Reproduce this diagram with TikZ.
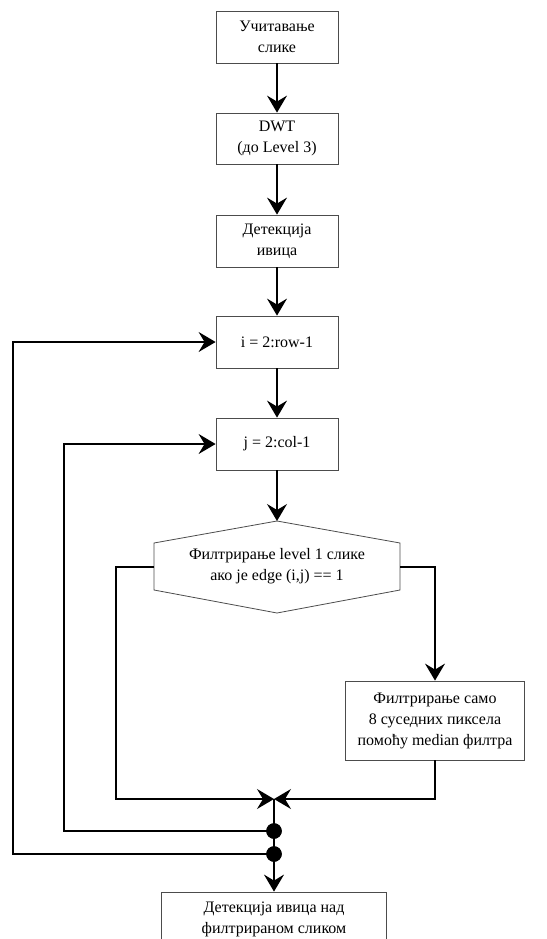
\documentclass[tikz,border=0pt]{standalone}
\usepackage{fontspec}
\setmainfont{Liberation Serif}
\usetikzlibrary{arrows.meta}
\begin{document}
\begin{tikzpicture}[x=1pt,y=-1pt,
  box/.style={draw=black!70,line width=0.8pt,fill=white,rectangle,align=center,inner sep=2pt,
    font=\fontsize{16}{21}\selectfont},
  conn/.style={line width=1.5pt,-{Stealth[length=17pt,width=20pt,inset=6pt]}},
  line/.style={line width=1.5pt},
  dotn/.style={circle,fill=black,inner sep=0pt,minimum size=15.5pt}]
\useasboundingbox (0,0) rectangle (546,939);
\node[box,minimum width=122pt,minimum height=52pt] (b1) at (277,37) {Учитавање\\слике};
\node[box,minimum width=122pt,minimum height=51pt] (b2) at (277,138.5) {DWT\\(до Level 3)};
\node[box,minimum width=122pt,minimum height=52pt] (b3) at (277,241) {Детекција\\ивица};
\node[box,minimum width=122pt,minimum height=52pt] (b4) at (277,342) {i = 2:row-1};
\node[box,minimum width=122pt,minimum height=52pt] (b5) at (277,444) {j = 2:col-1};
% hexagon
\coordinate (hT) at (277,521);
\coordinate (hTR) at (400,543);
\coordinate (hBR) at (400,590);
\coordinate (hB) at (277,613);
\coordinate (hBL) at (154,590);
\coordinate (hTL) at (154,543);
\coordinate (hL) at (154,567);
\coordinate (hR) at (400,567);
\draw[draw=black!70,line width=0.8pt] (hT) -- (hTR) -- (hBR) -- (hB) -- (hBL) -- (hTL) -- cycle;
\node[align=center,font=\fontsize{16}{21}\selectfont] (hx) at (277,566) {Филтрирање level 1 слике\\ако је edge (i,j) == 1};
\node[box,minimum width=179pt,minimum height=79pt] (b6) at (435,720.5) {Филтрирање само\\8 суседних пиксела\\помоћу median филтра};
\node[box,minimum width=225pt,minimum height=54pt] (b7) at (274,919) {Детекција ивица над\\филтрираном сликом};
\coordinate (m) at (274,799);
\node[dotn] (d1) at (274,831) {};
\node[dotn] (d2) at (274,854) {};
\coordinate (lx) at (116,567);
\coordinate (jx) at (64,831);
\coordinate (ix) at (13,854);
% connectors
\draw[conn] (b1) -- (b2);
\draw[conn] (b2) -- (b3);
\draw[conn] (b3) -- (b4);
\draw[conn] (b4) -- (b5);
\draw[conn] (b5) -- (hT);
\draw[conn] (hR) -| (b6.north);
\draw[conn] (hL) -- (lx) |- (m);
\draw[conn] (b6.south) |- (m);
\draw[line] (m) -- (d1.center) -- (d2.center);
\draw[conn] (d2.center) -- (b7.north);
\draw[conn] (d1.center) -- (jx) |- (b5.west);
\draw[conn] (d2.center) -- (ix) |- (b4.west);
\node[dotn] at (d1) {};
\node[dotn] at (d2) {};
\end{tikzpicture}
\end{document}
